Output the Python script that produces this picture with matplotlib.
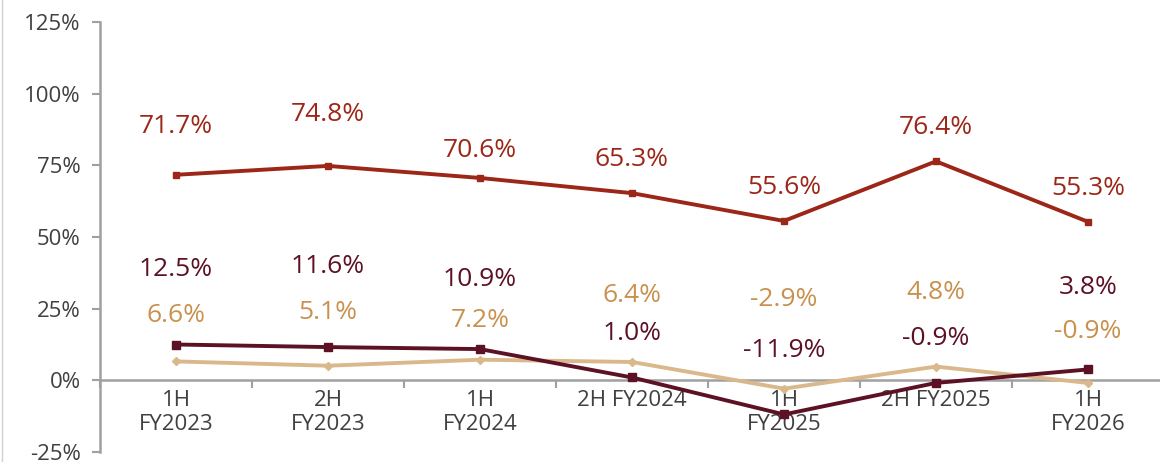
import matplotlib
matplotlib.use("Agg")
from matplotlib import pyplot as plt
from matplotlib.ticker import FixedLocator, PercentFormatter

periods = ["1H\nFY2023", "2H\nFY2023", "1H\nFY2024", "2H FY2024",
           "1H\nFY2025", "2H FY2025", "1H\nFY2026"]
red_vals = [71.7, 74.8, 70.6, 65.3, 55.6, 76.4, 55.3]
maroon_vals = [12.5, 11.6, 10.9, 1.0, -11.9, -0.9, 3.8]
tan_vals = [6.6, 5.1, 7.2, 6.4, -2.9, 4.8, -0.9]

# label offsets above the point, in points (hand placed like the original)
red_dy = [35, 37, 20, 24, 24, 24, 24]
maroon_dy = [54, 58, 50, 32, 46, 32, 59]
tan_dy = [33, 38, 28, 48, 64, 53, 37]

plt.rcParams['font.family'] = ['Open Sans', 'DejaVu Sans']
plt.rcParams['axes.unicode_minus'] = False

fig = plt.figure(figsize=(11.6, 4.62), dpi=100)
ax = fig.add_axes([100 / 1160, 10 / 462, 1 - 100 / 1160, 430 / 462])

x = list(range(len(periods)))
series = [
    (red_vals, "#9C2618", "#9C2618", "s", 5, red_dy),
    (tan_vals, "#D9B98C", "#C8914E", "D", 4, tan_dy),
    (maroon_vals, "#5C1125", "#5C1125", "s", 6, maroon_dy),
]
for vals, col, tcol, mk, ms, dys in series:
    ax.plot(x, vals, color=col, lw=2.8, marker=mk, ms=ms, zorder=3)
    for xi, v, dy in zip(x, vals, dys):
        ax.annotate(f"{v:.1f}%", (xi, v), xytext=(0, dy), textcoords="offset points",
                    ha="center", va="center", fontsize=19, color=tcol)

ax.set_ylim(-25, 125)
ax.set_xlim(-0.5, -0.5 + 1060 / 152)
ax.set_yticks([-25, 0, 25, 50, 75, 100, 125])
ax.yaxis.set_major_formatter(PercentFormatter(decimals=0))

ax.set_xticks(x)
ax.set_xticklabels(periods, linespacing=1.05)
ax.xaxis.set_minor_locator(FixedLocator([i - 0.5 for i in range(len(periods) + 1)]))
ax.tick_params(axis="x", which="major", length=0, pad=7, labelsize=16, labelcolor="#404040")
ax.tick_params(axis="x", which="minor", length=6, width=1.5, color="#A0A0A0", direction="out")
ax.tick_params(axis="y", labelsize=16, labelcolor="#404040", length=6, width=1.5,
               color="#A0A0A0", direction="out", pad=8)

for s in ["top", "right"]:
    ax.spines[s].set_visible(False)
ax.spines["left"].set_color("#A0A0A0")
ax.spines["left"].set_linewidth(1.8)
ax.spines["bottom"].set_position(("data", 0))
ax.spines["bottom"].set_color("#A0A0A0")
ax.spines["bottom"].set_linewidth(1.8)

fig.add_artist(plt.Line2D([1.5 / 1160, 1.5 / 1160], [0, 1], color="#D0D0D0", lw=1))

fig.savefig("out.png", dpi=100)
